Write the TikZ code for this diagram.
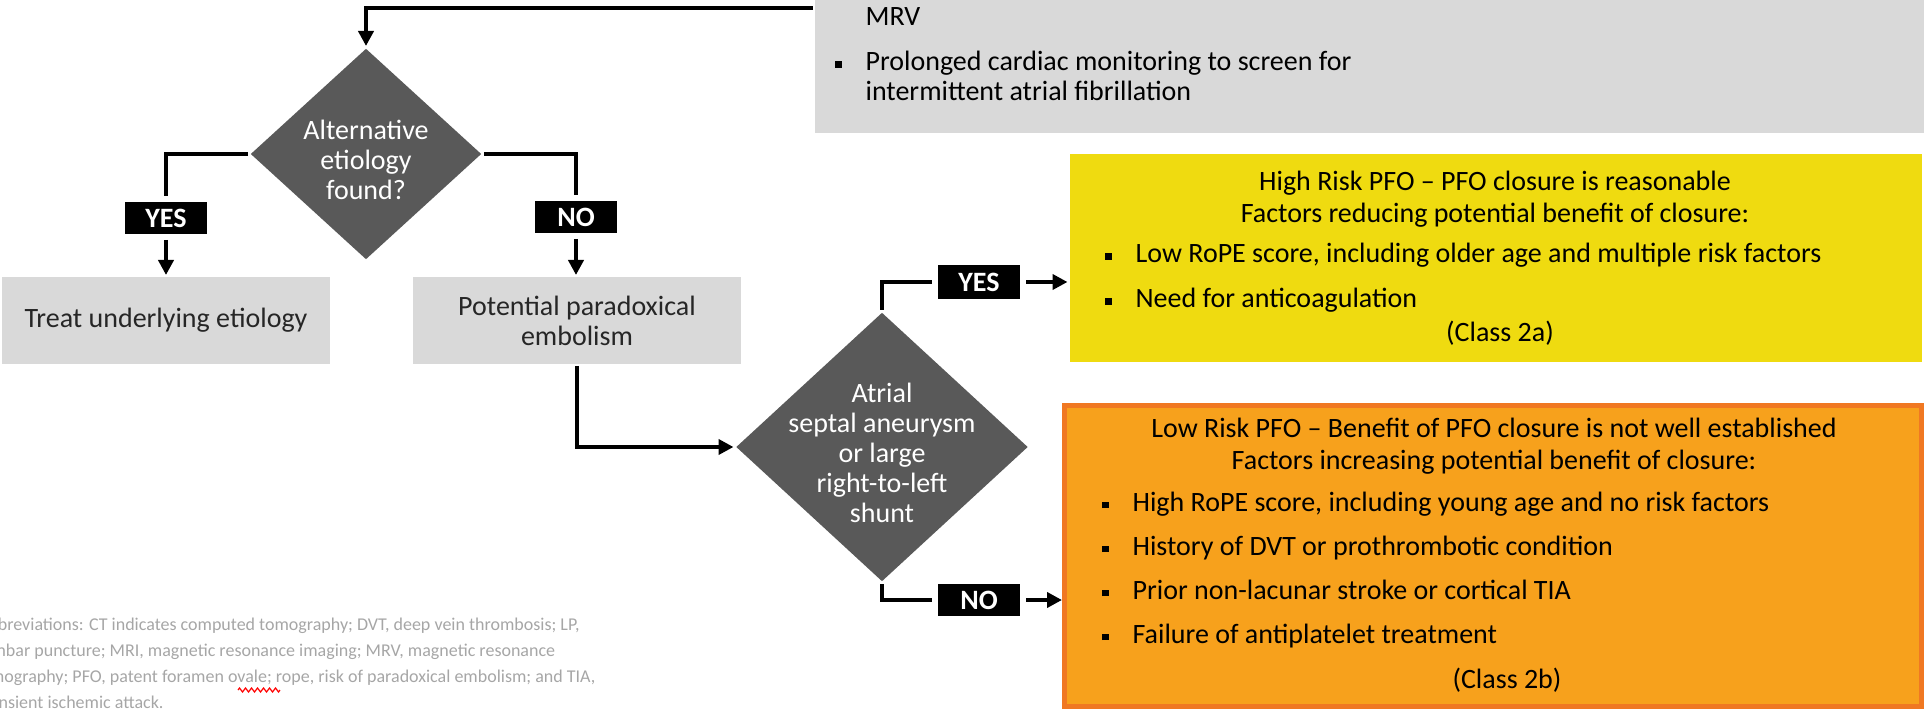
\documentclass[tikz,border=0pt]{standalone}
\usepackage{fontspec}
\setmainfont{Carlito}
\usetikzlibrary{positioning,shapes.geometric,arrows.meta,decorations.pathmorphing}

\definecolor{boxgrey}{HTML}{D9D9D9}
\definecolor{diagrey}{HTML}{595959}
\definecolor{hiyellow}{HTML}{EFDB10}
\definecolor{loorange}{HTML}{F7A11C}
\definecolor{loedge}{HTML}{F07822}
\definecolor{notegrey}{HTML}{A6A6A6}

\newcommand{\sqbul}{\rule[1.7pt]{3.3pt}{3.3pt}}

\begin{document}
\begin{tikzpicture}[x=0.5pt,y=-0.5pt,line width=2pt,
                    font=\fontsize{14pt}{15pt}\selectfont,
                    grey box/.style={rectangle,fill=boxgrey,inner sep=0pt,
                                     minimum width=164pt,minimum height=43.5pt,
                                     align=center,text=black!85},
                    choice node/.style={diamond,fill=diagrey,inner sep=0pt},
                    choice text/.style={align=center,text=white,inner sep=0pt},
                    tag node/.style={rectangle,fill=black,text=white,
                                     font=\fontsize{14pt}{15pt}\selectfont\bfseries,
                                     minimum width=41pt,minimum height=16pt,
                                     inner sep=0pt,outer sep=3pt},
                    plain text/.style={inner sep=0pt,text=black,align=left},
                    flow/.style={-{Triangle[length=7.5pt,width=7.5pt]}}
                   ]
   \useasboundingbox (0,0) rectangle (1924,711);
   \clip (0,0) rectangle (1924,711);

   % work-up box (cut at the top)
   \node[rectangle,fill=boxgrey,inner sep=0pt,minimum width=562.5pt,
         minimum height=125pt] (tests) at (1377.5,8) {};
   \node[plain text,anchor=west] (testst) at (833,57.5)
        {\begin{tabular}{@{}l@{\hspace{12pt}}l@{}}
           & MRV\\[7.5pt]
         \sqbul & Prolonged cardiac monitoring to screen for\\
           & intermittent atrial fibrillation
         \end{tabular}};

   % first decision
   \node[choice node,minimum width=116pt,minimum height=106pt] (d1) at (366,154) {};
   \node[choice text] (d1t) at (366,160) {Alternative\\etiology\\found?};
   \node[tag node] (yes1) at (166,218) {YES};
   \node[tag node] (no1) at (576,217) {NO};
   \node[grey box] (treat) at (166,320.5) {Treat underlying etiology};
   \node[grey box] (pot) at (577,320.5) {Potential paradoxical\\embolism};

   % second decision
   \node[choice node,minimum width=146.5pt,minimum height=135pt] (d2) at (882,447) {};
   \node[choice text] (d2t) at (882,453)
        {Atrial\\septal aneurysm\\or large\\right-to-left\\shunt};
   \node[tag node,minimum height=17pt] (yes2) at (979,282) {YES};
   \node[tag node] (no2) at (979,600) {NO};

   % high risk
   \node[rectangle,fill=hiyellow,inner sep=0pt,minimum width=426pt,
         minimum height=104pt] (hi) at (1495.5,258) {};
   \node[plain text,align=center] (hit) at (1495,199)
        {High Risk PFO -- PFO closure is reasonable\\[1pt]
         Factors reducing potential benefit of closure:};
   \node[plain text,anchor=west] (hib) at (1103,279.5)
        {\begin{tabular}{@{}l@{\hspace{12pt}}l@{}}
         \sqbul & Low RoPE score, including older age and multiple risk factors\\[7.5pt]
         \sqbul & Need for anticoagulation
         \end{tabular}};
   \node[plain text] (hic) at (1500,333) {(Class 2a)};

   % low risk
   \node[rectangle,fill=loorange,draw=loedge,line width=2.5pt,inner sep=0pt,
         minimum width=428.5pt,minimum height=150.5pt] (lo) at (1493,556) {};
   \node[plain text,align=center] (lot) at (1494,446)
        {Low Risk PFO -- Benefit of PFO closure is not well established\\[1pt]
         Factors increasing potential benefit of closure:};
   \node[plain text,anchor=west] (lob) at (1100,571.5)
        {\begin{tabular}{@{}l@{\hspace{12pt}}l@{}}
         \sqbul & High RoPE score, including young age and no risk factors\\[7pt]
         \sqbul & History of DVT or prothrombotic condition\\[7pt]
         \sqbul & Prior non-lacunar stroke or cortical TIA\\[7pt]
         \sqbul & Failure of antiplatelet treatment
         \end{tabular}};
   \node[plain text] (loc) at (1507,680) {(Class 2b)};

   % abbreviations
   \node[plain text,anchor=west,text=notegrey,
         font=\fontsize{9pt}{13pt}\selectfont] (abbr) at (-24,663)
        {Abbreviations: CT indicates computed tomography; DVT, deep vein thrombosis; LP,\\
         lumbar puncture; MRI, magnetic resonance imaging; MRV, magnetic resonance\\
         venography; PFO, patent foramen ovale; rope, risk of paradoxical embolism; and TIA,\\
         transient ischemic attack.};
   \draw[red,line width=0.6pt,decorate,
         decoration={zigzag,segment length=3pt,amplitude=1pt}] (238,690) -- (280,690);

   \draw[flow] (tests.west) -| (d1.north);
   \draw (d1.west) -| (yes1.north);
   \draw[flow] (yes1) -- (treat);
   \draw (d1.east) -| (no1.north);
   \draw[flow] (no1.south) -- (no1.south |- pot.north);
   \draw[flow] (pot.south) |- (d2.west);
   \draw (d2.north) |- (yes2.west);
   \draw[flow] (yes2.east) -- (yes2.east -| hi.west);
   \draw (d2.south) |- (no2.west);
   \draw[flow] (no2.east) -- (no2.east -| lo.west);
\end{tikzpicture}
\end{document}
